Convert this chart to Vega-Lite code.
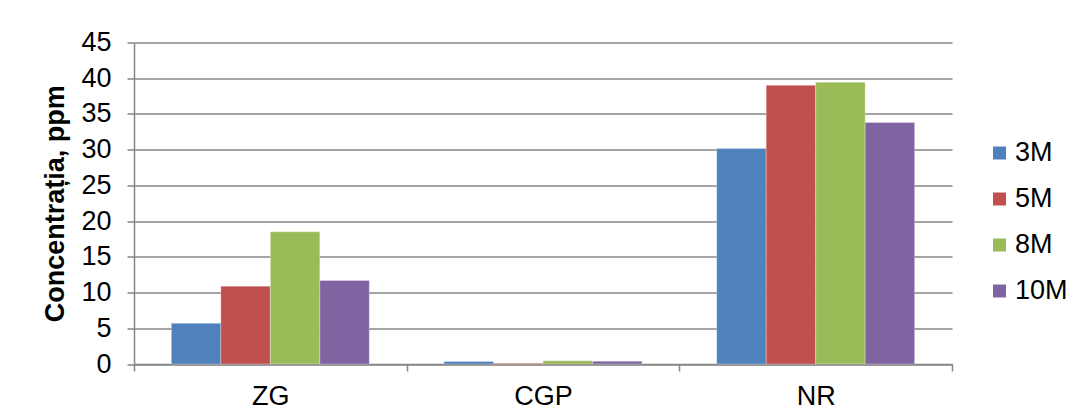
{
  "$schema": "https://vega.github.io/schema/vega-lite/v6.json",
  "autosize": "none",
  "width": 818,
  "height": 321.5,
  "padding": {"left": 134, "top": 42.5, "right": 126, "bottom": 55},
  "background": "white",
  "config": {
    "view": {"stroke": null},
    "font": "Liberation Sans"
  },
  "data": {
    "values": [
      {"loc": "ZG", "series": "3M", "value": 5.7},
      {"loc": "ZG", "series": "5M", "value": 10.9},
      {"loc": "ZG", "series": "8M", "value": 18.5},
      {"loc": "ZG", "series": "10M", "value": 11.7},
      {"loc": "CGP", "series": "3M", "value": 0.35},
      {"loc": "CGP", "series": "5M", "value": 0.1},
      {"loc": "CGP", "series": "8M", "value": 0.45},
      {"loc": "CGP", "series": "10M", "value": 0.4},
      {"loc": "NR", "series": "3M", "value": 30.15},
      {"loc": "NR", "series": "5M", "value": 39.0},
      {"loc": "NR", "series": "8M", "value": 39.45},
      {"loc": "NR", "series": "10M", "value": 33.8}
    ]
  },
  "mark": {"type": "bar", "stroke": "white", "strokeWidth": 0.5, "strokeOpacity": 0.6},
  "encoding": {
    "x": {
      "field": "loc",
      "type": "nominal",
      "sort": ["ZG", "CGP", "NR"],
      "scale": {"paddingInner": 0, "paddingOuter": 0},
      "axis": {
        "title": null,
        "labelAngle": 0,
        "labelFontSize": 27,
        "labelColor": "black",
        "labelPadding": 12,
        "tickBand": "extent",
        "tickSize": 7,
        "tickColor": "#868686",
        "tickWidth": 1.5,
        "domainColor": "#868686",
        "domainWidth": 1.5,
        "grid": false
      }
    },
    "xOffset": {
      "field": "series",
      "type": "nominal",
      "sort": ["3M", "5M", "8M", "10M"],
      "scale": {"paddingInner": 0, "paddingOuter": 0.755}
    },
    "y": {
      "field": "value",
      "type": "quantitative",
      "scale": {"domain": [0, 45], "nice": false},
      "axis": {
        "title": "Concentrația, ppm",
        "titleFontSize": 27,
        "titleFontWeight": "bold",
        "titleColor": "black",
        "titlePadding": 11,
        "values": [0, 5, 10, 15, 20, 25, 30, 35, 40, 45],
        "labelFontSize": 27,
        "labelColor": "black",
        "labelPadding": 16,
        "tickSize": 7,
        "tickColor": "#868686",
        "tickWidth": 1.5,
        "domainColor": "#868686",
        "domainWidth": 1.5,
        "grid": true,
        "gridColor": "#868686",
        "gridWidth": 1.5
      }
    },
    "color": {
      "field": "series",
      "type": "nominal",
      "sort": ["3M", "5M", "8M", "10M"],
      "scale": {
        "domain": ["3M", "5M", "8M", "10M"],
        "range": ["#4F81BD", "#C0504D", "#9BBB59", "#8064A2"]
      },
      "legend": {
        "title": null,
        "orient": "none",
        "legendX": 852,
        "legendY": 97,
        "symbolType": "square",
        "symbolSize": 169,
        "symbolStrokeWidth": 0,
        "labelFontSize": 27,
        "labelColor": "black",
        "labelOffset": 2,
        "rowPadding": 18
      }
    }
  }
}
